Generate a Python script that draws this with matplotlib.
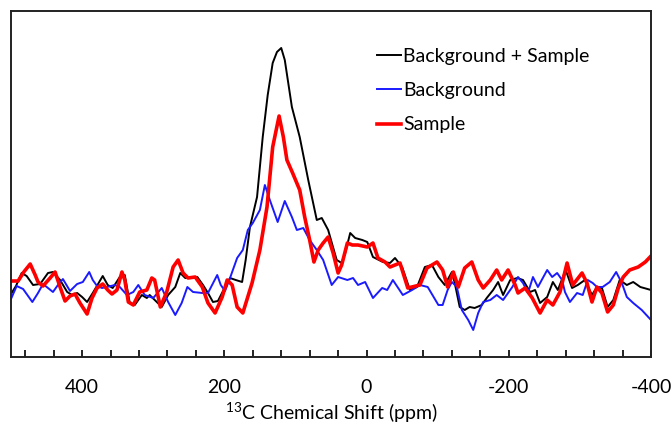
import matplotlib
matplotlib.use("Agg")
import matplotlib.pyplot as plt
from matplotlib.ticker import MultipleLocator

plt.rcParams['font.family'] = ['Lato', 'DejaVu Sans']
plt.rcParams['axes.unicode_minus'] = False

# chemical shift (ppm) and intensity (a.u.)
bg_sample_ppm = [500, 493, 485, 478, 469, 459, 448, 441, 431, 421, 414, 407, 400, 393, 385, 371, 364, 357,
                 347, 340, 333, 326, 316, 309, 305, 295, 288, 279, 269, 262, 255, 245, 238, 230, 223, 216,
                 209, 199, 192, 184, 175, 170, 164, 154, 146, 139, 132, 126, 120, 115, 105, 94, 82, 70, 63,
                 54, 42, 35, 30, 23, 16, 6, -1, -9, -23, -33, -40, -50, -61, -71, -82, -92, -101, -110,
                 -120, -124, -131, -138, -145, -152, -162, -169, -178, -185, -192, -202, -212, -220, -230,
                 -237, -244, -254, -262, -269, -280, -289, -297, -307, -317, -324, -331, -339, -347, -356,
                 -366, -375, -385, -400]
bg_sample_int = [6, 14, 27, 24, 15, 16, 27, 28, 20, 8, 5, 7, 3, -2, 7, 24, 15, 12,
                 23, 25, -3, -5, 5, 2, 5, -2, -7, 5, 13, 27, 22, 22, 23, 15, 7, -2,
                 -1, 13, 22, 20, 18, 40, 73, 103, 163, 205, 237, 248, 252, 240, 193, 163, 120, 80, 82,
                 70, 40, 37, 47, 67, 62, 60, 58, 43, 38, 37, 42, 33, 10, 13, 33, 35, 23, 15,
                 28, 17, -7, -10, -7, -8, -5, 2, 10, 18, 5, 20, 22, 20, 8,
                 10, -3, 3, 18, 10, 30, 12, 15, 20, 5, 13, 12, -7, 0, 20,
                 15, 18, 13, 10]

background_ppm = [500, 492, 483, 476, 470, 462, 455, 448, 441, 434, 427, 417, 407, 399, 390, 385, 379, 372,
                  365, 354, 347, 337, 328, 321, 312, 300, 288, 279, 269, 260, 252, 244, 231, 223, 210, 205,
                  199, 192, 182, 174, 167, 160, 150, 143, 136, 125, 115, 105, 98, 89, 80, 70, 61, 49, 40,
                  27, 19, 12, 2, -9, -22, -29, -37, -51, -64, -75, -86, -101, -107, -114, -120, -127,
                  -134, -143, -150, -157, -164, -174, -183, -192, -205, -213, -220, -227, -234, -241,
                  -254, -261, -268, -275, -279, -286, -296, -304, -311, -318, -324, -332, -342, -351,
                  -359, -366, -375, -387, -400]
background_int = [1, 14, 11, 4, -2, 7, 16, 12, 8, 15, 21, 9, 16, 18, 28, 20, 14, 12,
                  13, 15, 13, 5, 8, 15, 5, 2, 12, -2, -15, -3, 13, 8, 7, 7, 25, 15,
                  9, 22, 42, 50, 70, 77, 90, 115, 100, 78, 99, 83, 70, 72, 60, 50, 40, 15, 23,
                  20, 22, 15, 18, 2, 12, 10, 20, 5, 10, 15, 13, -5, -5, 10, 18, 13,
                  -10, -20, -30, -13, -2, 0, 5, 0, 13, 23, 17, 7, 23, 13,
                  30, 23, 27, 20, 8, -2, 7, 5, 20, 17, 13, 13, 18, 28,
                  17, 3, -3, -10, -20]

sample_ppm = [500, 490, 482, 473, 466, 462, 455, 445, 438, 431, 424, 417, 410, 403, 393, 386, 379, 371,
              364, 358, 351, 344, 340, 335, 328, 319, 309, 302, 298, 290, 281, 272, 265, 258, 251, 241,
              231, 223, 213, 203, 196, 189, 182, 174, 161, 150, 140, 132, 123, 117, 112, 104, 94, 87,
              80, 74, 68, 61, 54, 47, 40, 35, 27, 20, 12, -1, -9, -16, -26, -33, -47, -58, -75, -85,
              -99, -107, -114, -122, -129, -138, -148, -157, -164, -174, -183, -190, -199, -209, -213,
              -223, -233, -244, -254, -262, -272, -282, -290, -303, -310, -317, -324, -331, -339,
              -347, -354, -361, -370, -382, -392, -400]
sample_int = [19, 19, 28, 36, 25, 18, 14, 22, 28, 13, -1, 4, 6, -3, -14, 2, 12, 16,
              10, 6, 10, 28, 20, -2, -5, 8, 10, 22, 20, -7, 8, 33, 40, 27, 22, 23,
              13, -3, -13, 3, 20, 15, -7, -13, 17, 50, 93, 153, 184, 163, 140, 127, 110, 83,
              60, 38, 50, 57, 63, 47, 27, 35, 57, 55, 55, 53, 57, 42, 38, 33, 37, 12, 15, 32,
              38, 30, 13, 28, 13, 32, 38, 20, 12, 20, 30, 20, 30, 15, 7,
              12, 2, -13, 0, -5, 8, 37, 15, 27, 17, -2, 13, 7, -12,
              -5, 12, 23, 30, 33, 38, 44]

fig = plt.figure(figsize=(6.72, 4.28), dpi=100)
ax = fig.add_axes([11 / 672, 71 / 428, 640 / 672, 346 / 428])

ax.plot(bg_sample_ppm, bg_sample_int, color='black', lw=1.4, label='Background + Sample')
ax.plot(background_ppm, background_int, color='#1a1aff', lw=1.4, label='Background')
ax.plot(sample_ppm, sample_int, color='#ff0000', lw=2.6, label='Sample')

ax.set_xlim(500, -400)
ax.set_ylim(-57, 289)
ax.xaxis.set_major_locator(MultipleLocator(200))
ax.xaxis.set_minor_locator(MultipleLocator(40))
ax.tick_params(axis='x', which='both', direction='in', length=5, width=1.2, pad=16,
               labelsize=14, top=False)
ax.set_yticks([])
for sp in ax.spines.values():
    sp.set_linewidth(1.4)
    sp.set_color('#222222')

ax.set_xlabel(r'$^{\mathregular{13}}$C Chemical Shift (ppm)', fontsize=14, labelpad=3)

ax.legend(loc='upper left', bbox_to_anchor=(0.56, 0.915), frameon=False, fontsize=14,
          handlelength=1.2, handletextpad=0.12, labelspacing=0.88, borderaxespad=0)

fig.savefig('out.png', dpi=100)
